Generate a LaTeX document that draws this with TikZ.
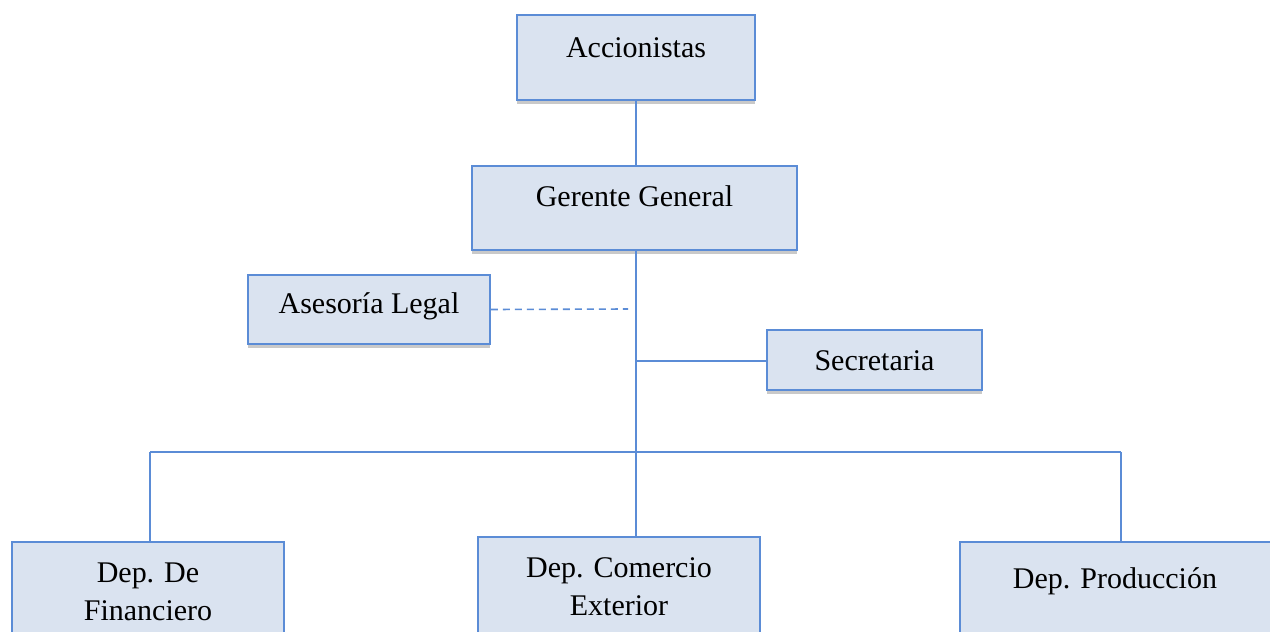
\documentclass[tikz,border=0pt]{standalone}
\usepackage{fontspec}
\setmainfont{Liberation Serif}
\usetikzlibrary{shadows}
\definecolor{boxfill}{HTML}{DAE3F0}
\definecolor{boxline}{HTML}{5B8CD6}
\tikzset{
  box/.style={draw=boxline, line width=1.6pt, fill=boxfill, inner sep=0pt,
    drop shadow={shadow xshift=0pt, shadow yshift=-4pt, opacity=0.35, fill=black!60}},
  txt/.style={anchor=base, inner sep=0pt, font=\fontsize{30}{38}\selectfont, align=center},
  conn/.style={draw=boxline, line width=1.6pt},
  dconn/.style={draw=boxline, line width=1.6pt, dash pattern=on 7pt off 5pt}
}
\begin{document}
\begin{tikzpicture}[x=1pt,y=-1pt]
\useasboundingbox (0,0) rectangle (1270,632);
\clip (0,0) rectangle (1270,632);
\fill[white] (0,0) rectangle (1270,632);
% boxes
\node[box, minimum width=238pt, minimum height=85pt] (acc) at (636,57.5) {};
\node[box, minimum width=325pt, minimum height=84pt] (ger) at (634.5,208) {};
\node[box, minimum width=242pt, minimum height=69pt] (ase) at (369,309.5) {};
\node[box, minimum width=215pt, minimum height=60pt] (sec) at (874.5,360) {};
\node[box, minimum width=272pt, minimum height=110pt] (fin) at (148,597) {};
\node[box, minimum width=282pt, minimum height=110pt] (com) at (619,592) {};
\node[box, minimum width=320pt, minimum height=110pt] (pro) at (1120,597) {};
% texts
\node[txt] (tacc) at (636,57) {Accionistas};
\node[txt] (tger) at (634.5,206) {Gerente General};
\node[txt] (tase) at (369,313) {Asesoría Legal};
\node[txt] (tsec) at (874.5,370) {Secretaria};
\node[txt] (tfin1) at (148,582) {Dep. De};
\node[txt] (tfin2) at (148,620) {Financiero};
\node[txt] (tcom1) at (619,577) {Dep. Comercio};
\node[txt] (tcom2) at (619,615) {Exterior};
\node[txt] (tpro) at (1115,588) {Dep. Producción};
% connector points
\coordinate (jleg) at (636,309);
\coordinate (jdash) at (628,309);
\coordinate (jsec) at (636,361);
\coordinate (jbar) at (636,452);
\coordinate (jl) at (150,452);
\coordinate (jr) at (1121,452);
% connectors
\draw[conn] (acc.south -| 636,0) -- (ger.north -| 636,0);
\draw[conn] (ger.south -| 636,0) -- (com.north -| 636,0);
\draw[dconn] (ase.east) -- (jdash);
\draw[conn] (jsec) -- (sec.west |- jsec);
\draw[conn] (jl) -- (jr);
\draw[conn] (jl) -- (fin.north -| jl);
\draw[conn] (jr) -- (pro.north -| jr);
\end{tikzpicture}
\end{document}
